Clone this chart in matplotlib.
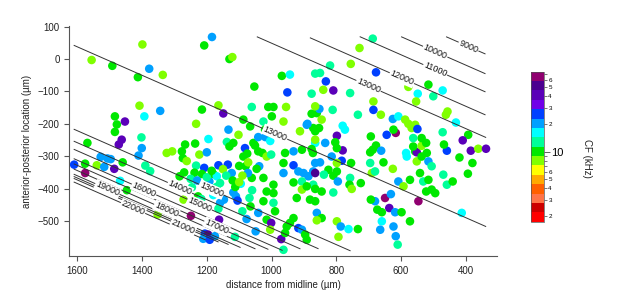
import numpy as np
import matplotlib
matplotlib.use('Agg')
import matplotlib.pyplot as plt
from matplotlib.colors import ListedColormap, LogNorm
from matplotlib.ticker import FixedLocator, FuncFormatter

plt.rcParams['font.family'] = ['Liberation Sans', 'DejaVu Sans']

# recorded units: position (um) and characteristic frequency (kHz)
cell_x = [1556, 1492, 1399, 1378, 1336, 1413, 1208, 1184, 1130, 1121, 1408, 1344, 1393, 1484, 1478,
          1453, 1484, 1463, 1472, 1402, 1401, 1411, 1569, 1528, 1507, 1497, 1610, 1576, 1576, 1540,
          1517, 1486, 1460, 1390, 1375, 1468, 1447, 1352, 1324, 1307, 1277, 1267, 1236, 1274, 1262,
          1223, 1233, 1238, 1208, 1215, 1200, 1195, 1215, 1233, 1164, 1149, 1133, 1138, 1130, 1118,
          1102, 1164, 1135, 1123, 1180, 1169, 1159, 1118, 1110, 1105, 1159, 1147, 1164, 1162, 1249,
          1272, 1246, 1192, 1206, 1196, 1175, 1211, 1191, 1113, 1077, 1068, 1061, 1049, 1080, 1073,
          1087, 1072, 1082, 1075, 1056, 1041, 1051, 1041, 1019, 1004, 1004, 1028, 1015, 1001, 1038,
          1046, 1025, 1015, 1025, 1041, 1015, 1001, 994, 994, 994, 989, 1004, 970, 963, 958,
          953, 943, 932, 917, 906, 896, 891, 963, 963, 1053, 968, 943, 951, 955, 994,
          1010, 999, 1025, 1061, 1087, 963, 912, 876, 865, 860, 891, 871, 865, 865, 876,
          906, 932, 958, 932, 917, 901, 886, 871, 906, 932, 906, 922, 871, 881, 860,
          865, 687, 728, 677, 755, 819, 850, 832, 809, 840, 757, 685, 685, 733, 852,
          876, 865, 889, 853, 845, 811, 780, 773, 798, 780, 803, 798, 834, 865, 872,
          814, 783, 850, 865, 798, 754, 824, 798, 838, 809, 795, 757, 759, 752, 724,
          891, 865, 845, 809, 865, 845, 860, 798, 786, 762, 733, 793, 625, 608, 587,
          577, 567, 556, 549, 644, 616, 662, 623, 693, 677, 687, 695, 661, 654, 625,
          690, 680, 695, 608, 592, 572, 584, 582, 556, 551, 551, 536, 520, 515, 505,
          541, 531, 515, 522, 505, 494, 562, 536, 522, 536, 562, 471, 461, 456, 430,
          392, 409, 458, 467, 384, 361, 337, 419, 379, 393, 469, 458, 440, 412, 649,
          636, 631, 680, 693, 673, 659, 618, 598, 572, 659, 664, 623, 616, 610, 546,
          577, 515, 471, 500, 548, 553, 1066, 1020, 1270, 1250, 1230, 1200, 1185, 1150, 1140,
          1120, 1095, 1090, 1100, 1060, 1284, 1227, 1217, 1190, 1180, 1170, 1112, 1100, 1090, 1065]
cell_y = [-3, -21, 45, -30, -49, -56, 42, 68, 0, 6, -144, -160, -177, -177, -202,
          -193, -225, -249, -264, -242, -275, -298, -259, -302, -307, -309, -326, -323, -352, -328,
          -333, -339, -319, -329, -346, -376, -405, -480, -290, -285, -285, -264, -261, -306, -315,
          -295, -329, -351, -336, -355, -288, -247, -156, -200, -143, -168, -218, -256, -270, -259,
          -234, -328, -326, -352, -355, -362, -383, -412, -424, -437, -444, -434, -462, -496, -484,
          -434, -396, -378, -539, -542, -547, -555, -558, -549, -494, -429, -367, -532, -331, -352,
          -301, -319, -275, -292, -259, -241, -267, -285, -241, -253, -228, -290, -301, -295, -331,
          -339, -367, -409, -439, -475, -496, -506, -388, -414, -444, -470, -527, -556, -589, -537,
          -517, -506, -491, -522, -527, -542, -558, -352, -321, -85, -52, -48, -103, -148, -148,
          -148, -177, -193, -148, -187, -193, -223, -107, -45, -167, -203, -213, -223, -259, -278,
          -280, -285, -290, -328, -347, -352, -362, -347, -378, -381, -403, -429, -388, -434, -475,
          -352, 63, 34, -41, -15, -20, -43, -69, -97, -95, -105, -131, -157, -172, -154,
          -169, -146, -200, -213, -187, -157, -206, -218, -237, -282, -257, -275, -259, -249, -290,
          -301, -314, -319, -321, -321, -321, -342, -347, -357, -360, -378, -367, -388, -401, -383,
          -393, -401, -409, -412, -439, -491, -498, -501, -517, -525, -525, -549, -185, -177, -187,
          -200, -213, -203, -216, -234, -228, -172, -218, -239, -267, -280, -288, -283, -319, -339,
          -352, -347, -321, -378, -393, -373, -290, -301, -285, -288, -316, -301, -290, -316, -331,
          -352, -378, -373, -409, -403, -414, -270, -268, -259, -244, -244, -226, -172, -162, -196,
          -234, -251, -283, -264, -283, -277, -277, -304, -321, -354, -357, -388, -378, -475, -429,
          -460, -417, -439, -434, -465, -473, -473, -473, -501, -501, -527, -517, -547, -573, -439,
          -86, -79, -97, -115, -107, -131, -208, -218, -350, -370, -375, -365, -345, -340, -360,
          -375, -385, -360, -330, -405, -362, -424, -432, -400, -420, -395, -395, -380, -470, -455]
cell_cf = [8, 10, 8, 20, 8, 10, 10, 20, 10, 8, 8, 20, 16, 10, 10,
           40, 10, 40, 40, 13, 20, 20, 10, 20, 20, 20, 26, 10, 65, 8,
           20, 40, 10, 13, 13, 16, 10, 8, 8, 8, 10, 10, 10, 10, 8,
           8, 13, 10, 26, 10, 20, 16, 10, 8, 8, 40, 20, 13, 10, 10,
           8, 26, 26, 20, 10, 16, 13, 20, 20, 26, 20, 20, 13, 40, 65,
           8, 13, 20, 26, 52, 20, 20, 26, 13, 20, 13, 10, 20, 10, 20,
           10, 8, 26, 10, 10, 20, 10, 10, 20, 16, 10, 10, 8, 13, 20,
           10, 10, 10, 10, 20, 10, 40, 10, 10, 13, 10, 8, 40, 13, 10,
           10, 10, 10, 26, 20, 10, 10, 20, 10, 10, 10, 16, 26, 8, 10,
           10, 10, 13, 13, 10, 8, 8, 13, 13, 10, 20, 10, 10, 16, 10,
           10, 20, 10, 26, 20, 20, 20, 20, 13, 10, 8, 10, 13, 10, 20,
           52, 13, 8, 26, 8, 13, 13, 26, 40, 8, 13, 8, 26, 13, 20,
           10, 8, 20, 10, 8, 13, 16, 16, 40, 40, 10, 10, 20, 8, 10,
           20, 26, 20, 20, 8, 10, 10, 10, 13, 10, 20, 13, 10, 8, 10,
           10, 10, 10, 13, 10, 10, 8, 8, 20, 16, 10, 8, 20, 16, 8,
           8, 8, 8, 26, 26, 65, 8, 10, 10, 10, 10, 10, 20, 10, 8,
           8, 13, 13, 20, 8, 10, 16, 16, 10, 40, 8, 10, 10, 20, 13,
           10, 13, 10, 10, 10, 10, 10, 8, 10, 10, 13, 13, 8, 8, 16,
           10, 40, 26, 10, 40, 8, 40, 10, 10, 10, 13, 13, 10, 16, 65,
           40, 20, 20, 10, 10, 10, 20, 10, 10, 16, 20, 20, 20, 13, 65,
           8, 10, 16, 13, 16, 8, 10, 10, 10, 13, 20, 13, 10, 8, 13,
           10, 16, 8, 10, 13, 10, 10, 13, 20, 16, 13, 10, 8, 13, 10]

# iso-frequency lines (Hz): common slope, y at x = 1000 um, x extent
iso_level = [9000, 10000, 11000, 12000, 13000, 13000, 13000, 14000, 15000, 16000,
             17000, 18000, 19000, 20000, 21000, 22000]
iso_slope = 0.4393
iso_y1000 = [306, 245, 189, 118, 49, -226, -485, -522, -547, -576,
             -592, -608, -624, -631, -637, -648]
iso_x_start = [459, 598, 726, 880, 1044, 1610, 1610, 1610, 1610, 1610,
               1610, 1610, 1610, 1610, 1610, 1610]
iso_x_end = [340, 340, 340, 340, 338, 338, 757, 856, 912, 967,
             1011, 1051, 1097, 1134, 1165, 1205]
iso_label_x = [391, 494, 494, 597, 700, 989, 1186, 1283, 1222, 1394,
               1170, 1325, 1507, None, 1273, 1428]

cf_range = (1.734, 74.0)
cf_colors = ['#ff0000', '#cc0000', '#ff7448', '#ff6000', '#ffaa00', '#ffff00', '#80ff00', '#00e800',
             '#00ff99', '#00ffff', '#00a0ff', '#0040ff', '#7000e8', '#5a00b8', '#4b0090', '#900070']
cmap = ListedColormap(cf_colors)
norm = LogNorm(vmin=cf_range[0], vmax=cf_range[1])

fig = plt.figure(figsize=(6.17, 3.04), dpi=100)
ax = fig.add_axes([0.1123, 0.158, 0.6927, 0.7565])
ax.set_xlim(1625, 304)
ax.set_ylim(-608, 102)

ax.scatter(cell_x, cell_y, c=cell_cf, cmap=cmap, norm=norm, s=38, linewidths=0, zorder=1)

# contour lines sit on top of the dots, labels on top of the lines
for lev, b, x0, x1, lx in zip(iso_level, iso_y1000, iso_x_start, iso_x_end, iso_label_x):
    xs = np.array([x0, x1])
    ax.plot(xs, iso_slope * (xs - 1000) + b, color='#333333', lw=0.7, zorder=2)
    if lx is not None:
        ly = iso_slope * (lx - 1000) + b
        p1 = ax.transData.transform((lx, ly))
        p2 = ax.transData.transform((lx - 100, ly - iso_slope * 100))
        ang = np.degrees(np.arctan2(p2[1] - p1[1], p2[0] - p1[0]))
        ax.text(lx, ly, str(lev), fontsize=6.5, rotation=ang, rotation_mode='anchor',
                ha='center', va='center', color='#111111', zorder=3,
                bbox=dict(facecolor='white', edgecolor='none', pad=0.6))

ax.set_xticks([1600, 1400, 1200, 1000, 800, 600, 400])
ax.set_yticks([100, 0, -100, -200, -300, -400, -500])
for s in ['top', 'right']:
    ax.spines[s].set_visible(False)
for s in ['left', 'bottom']:
    ax.spines[s].set_color('#555555')
    ax.spines[s].set_linewidth(0.8)
ax.tick_params(direction='out', length=3.5, width=0.8, color='#555555', labelsize=7, labelcolor='#222222')
ax.set_xlabel('distance from midline (µm)', fontsize=7, color='#222222', labelpad=3)
ax.set_ylabel('anterior-posterior location (µm)', fontsize=7, color='#222222', labelpad=4)

cax = fig.add_axes([0.860, 0.2707, 0.022, 0.4934])
sm = plt.cm.ScalarMappable(cmap=cmap, norm=norm)
cb = fig.colorbar(sm, cax=cax)
cb.outline.set_linewidth(0.5)
cb.outline.set_edgecolor('#555555')
cb.set_ticks([10])
cb.set_ticklabels(['10'])
cax.yaxis.set_minor_locator(FixedLocator([2, 3, 4, 5, 6, 7, 8, 9, 20, 30, 40, 50, 60, 70]))
cax.yaxis.set_minor_formatter(FuncFormatter(
    lambda v, p: str(int(round(v / 10 ** np.floor(np.log10(v))))) if round(v / 10 ** np.floor(np.log10(v))) <= 6 else ''))
cax.tick_params(which='major', length=4, width=0.6, labelsize=8, color='#444444', pad=1)
cax.tick_params(which='minor', length=2, width=0.5, labelsize=4.5, color='#444444', pad=1)
fig.text(0.952, 0.48, 'CF (kHz)', rotation=-90, fontsize=7, ha='center', va='center', color='#222222')

fig.savefig('out.png', dpi=100)
